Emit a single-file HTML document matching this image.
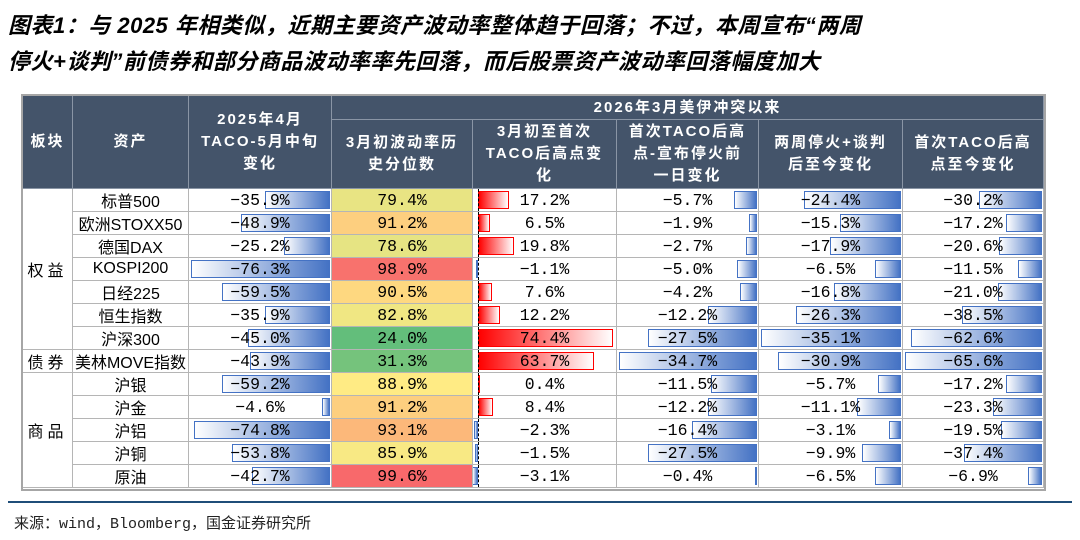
<!DOCTYPE html>
<html><head><meta charset="utf-8">
<style>
body{margin:0;width:1080px;height:540px;background:#fff;position:relative;overflow:hidden;font-family:"Liberation Sans","Noto Sans CJK SC",sans-serif;}
.t{position:absolute;left:8px;font-size:22px;font-weight:bold;font-style:italic;color:#000;white-space:nowrap;letter-spacing:0.5px}
.c{position:absolute;box-sizing:border-box;border-right:1px solid #b5b5b5;border-bottom:1px solid #b5b5b5;display:flex;align-items:center;justify-content:center;text-align:center;font-family:"Liberation Mono","Noto Sans CJK SC",monospace;font-size:16.5px;color:#000;overflow:hidden;white-space:nowrap}
.h{background:#44546a;color:#fff;font-weight:bold;font-family:"Liberation Sans","Noto Sans CJK SC",sans-serif;font-size:15px;line-height:22px;letter-spacing:2px;border-color:#8a95a5}
.bar{position:absolute;box-sizing:border-box}
.neg{background:linear-gradient(to right,#fff,#4472c4);border:1.5px solid #4472c4}
.pos{background:linear-gradient(to right,#ff0000,#fff);border:1.5px solid #ff0000}
.txt{position:relative;z-index:2}
</style></head><body>
<div class="t" style="top:8px">图表1：与 2025 年相类似，近期主要资产波动率整体趋于回落；不过，本周宣布“两周</div>
<div class="t" style="top:44px">停火+谈判”前债券和部分商品波动率率先回落，而后股票资产波动率回落幅度加大</div>
<div id="tbl" style="position:absolute;left:0;top:0;width:1080px;height:540px"></div>
<div style="position:absolute;left:8px;top:501px;width:1064px;height:2px;background:#1f4e79"></div>
<div style="position:absolute;left:14px;top:512px;font-size:15px;font-family:'Liberation Mono','Noto Sans CJK SC',monospace;color:#222">来源：wind，Bloomberg，国金证券研究所</div>
<script>
const assets=["标普500","欧洲STOXX50","德国DAX","KOSPI200","日经225","恒生指数","沪深300","美林MOVE指数","沪银","沪金","沪铝","沪铜","原油"];
const sectors=[["权益",0,7],["债券",7,1],["商品",8,5]];
const taco2025=[-35.9,-48.9,-25.2,-76.3,-59.5,-35.9,-45.0,-43.9,-59.2,-4.6,-74.8,-53.8,-42.7];
const volPct=[79.4,91.2,78.6,98.9,90.5,82.8,24.0,31.3,88.9,91.2,93.1,85.9,99.6];
const toPeak=[17.2,6.5,19.8,-1.1,7.6,12.2,74.4,63.7,0.4,8.4,-2.3,-1.5,-3.1];
const peakToCease=[-5.7,-1.9,-2.7,-5.0,-4.2,-12.2,-27.5,-34.7,-11.5,-12.2,-16.4,-27.5,-0.4];
const ceaseToNow=[-24.4,-15.3,-17.9,-6.5,-16.8,-26.3,-35.1,-30.9,-5.7,-11.1,-3.1,-9.9,-6.5];
const peakToNow=[-30.2,-17.2,-20.6,-11.5,-21.0,-38.5,-62.6,-65.6,-17.2,-23.3,-19.5,-37.4,-6.9];
const headers=["板块","资产","2025年4月<br>TACO-5月中旬<br>变化","3月初波动率历<br>史分位数","3月初至首次<br>TACO后高点变<br>化","首次TACO后高<br>点-宣布停火前<br>一日变化","两周停火+谈判<br>后至今变化","首次TACO后高<br>点至今变化"];
const X=[23,73,189,332,473,617,759,903,1044];
const TOP=96,SUB=120,HB=189,RH=23;
const T=document.getElementById('tbl');
function cell(x,y,w,h,cls,html){const d=document.createElement('div');d.className='c '+cls;d.style.left=x+'px';d.style.top=y+'px';d.style.width=w+'px';d.style.height=h+'px';if(html!==undefined)d.innerHTML='<span class="txt">'+html+'</span>';T.appendChild(d);return d;}
const ob=document.createElement('div');ob.style.cssText='position:absolute;left:21px;top:94px;width:1025px;height:397px;border:2px solid #a6a6a6;box-sizing:border-box';


T.appendChild(ob);
for(let i=0;i<3;i++){const d=cell(X[i],TOP,X[i+1]-X[i],HB-TOP,'h',headers[i]);

}
const g=cell(X[3],TOP,X[8]-X[3],SUB-TOP,'h','2026年3月美伊冲突以来');


for(let i=3;i<8;i++){const d=cell(X[i],SUB,X[i+1]-X[i],HB-SUB,'h',headers[i]);

}
sectors.forEach(s=>{const d=cell(X[0],HB+s[1]*RH,X[1]-X[0],s[2]*RH,'',s[0]);
d.style.fontFamily='"Liberation Sans","Noto Sans CJK SC",sans-serif';d.style.fontSize='16px';d.style.letterSpacing='4px';

});
function fmt(v){return (v<0?'−':'')+Math.abs(v).toFixed(1)+'%';}
function heat(v){const s=[...volPct].sort((a,b)=>a-b);const mn=s[0],mx=s[s.length-1],md=s[Math.floor(s.length/2)];
const G=[99,190,123],Y=[255,235,132],R=[248,105,107];let a,b,t;
if(v<=md){a=G;b=Y;t=(v-mn)/(md-mn);}else{a=Y;b=R;t=(v-md)/(mx-md);}
return 'rgb('+a.map((c,i)=>Math.round(c+(b[i]-c)*t)).join(',')+')';}
function negBar(c,v,max,x0,w){const L=Math.abs(v)/max*(w-4);const b=document.createElement('div');b.className='bar neg';
b.style.left=(w-2-L)+'px';b.style.top='2px';b.style.width=Math.max(L,2)+'px';b.style.height=(RH-5)+'px';


c.appendChild(b);}
assets.forEach((a,r)=>{const y=HB+r*RH;
const n=cell(X[1],y,X[2]-X[1],RH,'',a);n.style.fontFamily='"Liberation Sans","Noto Sans CJK SC",sans-serif';n.style.fontSize='16px';


let c=cell(X[2],y,X[3]-X[2],RH,'',fmt(taco2025[r]));negBar(c,taco2025[r],Math.max(...taco2025.map(Math.abs)),X[2],X[3]-X[2]);


c=cell(X[3],y,X[4]-X[3],RH,'',fmt(volPct[r]));c.style.background=heat(volPct[r]);


c=cell(X[4],y,X[5]-X[4],RH,'',fmt(toPeak[r]));
const ax=5,w=X[5]-X[4],sc=(w-ax-4)/Math.max(...toPeak);const v=toPeak[r];
const b=document.createElement('div');b.className='bar '+(v>=0?'pos':'neg');const L=Math.max(Math.abs(v)*sc,2);
b.style.left=(v>=0?ax:ax-L)+'px';b.style.width=L+'px';b.style.top='2px';b.style.height=(RH-5)+'px';


c.appendChild(b);
const axl=document.createElement('div');axl.style.cssText='position:absolute;left:'+ax+'px;top:0;height:100%;border-left:1.5px dashed #000';


c.appendChild(axl);


[peakToCease,ceaseToNow,peakToNow].forEach((arr,k)=>{const i=5+k;const cc=cell(X[i],y,X[i+1]-X[i],RH,'',fmt(arr[r]));
negBar(cc,arr[r],Math.max(...arr.map(Math.abs)),X[i],X[i+1]-X[i]);

});
});
</script>
</body></html>
